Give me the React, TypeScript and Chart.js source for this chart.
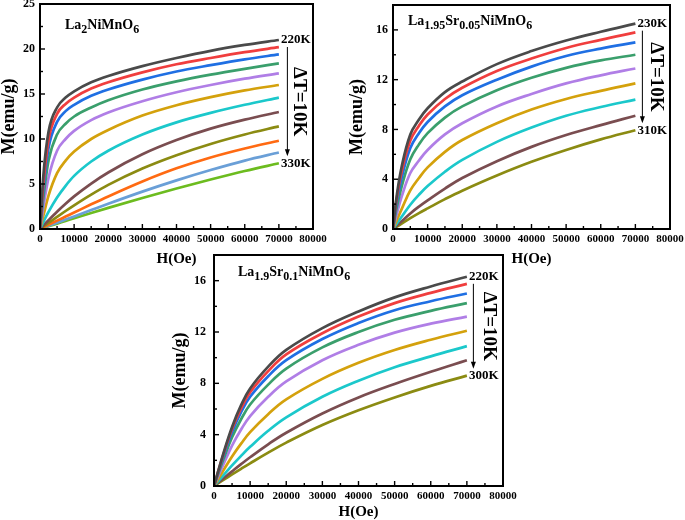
import React, { useEffect, useRef } from 'react';
import { Chart, registerables } from 'chart.js';

Chart.register(...registerables);

const FONT = "'Liberation Serif', 'Times New Roman', Times, serif";

const FIELD_OE = [0, 1000, 2500, 5000, 7500, 10000, 15000, 20000, 30000, 40000, 50000, 60000, 70000];

const CURVE_COLORS = ['#4a4a4a', '#f03e3e', '#1f6fe3', '#3a9f6c', '#b07ee6', '#d4a10c', '#1bc8cb', '#7a4d50', '#8b8b12', '#ff6a12', '#6a9fd7', '#6cbc1f'];

// ---- Panel 1: La2NiMnO6, 220 K ... 330 K ----
const LNMO_220K = [0, 6.0, 10.8, 13.5, 14.6, 15.3, 16.3, 17.0, 18.1, 19.0, 19.8, 20.45, 21.0];
const LNMO_230K = [0, 5.0, 9.9, 12.8, 13.9, 14.6, 15.6, 16.3, 17.4, 18.3, 19.0, 19.65, 20.2];
const LNMO_240K = [0, 4.4, 9.0, 11.9, 13.1, 13.8, 14.8, 15.5, 16.6, 17.5, 18.2, 18.85, 19.4];
const LNMO_250K = [0, 3.5, 7.6, 10.5, 11.7, 12.5, 13.5, 14.3, 15.5, 16.4, 17.15, 17.8, 18.4];
const LNMO_260K = [0, 2.5, 5.7, 8.7, 10.0, 10.9, 12.1, 12.95, 14.2, 15.2, 16.0, 16.7, 17.3];
const LNMO_270K = [0, 1.5, 3.7, 6.2, 7.6, 8.6, 10.0, 11.0, 12.6, 13.75, 14.65, 15.4, 16.0];
const LNMO_280K = [0, 0.8, 1.9, 3.5, 4.8, 5.9, 7.5, 8.7, 10.5, 11.85, 12.9, 13.8, 14.6];
const LNMO_290K = [0, 0.4, 0.98, 1.92, 2.8, 3.62, 5.05, 6.28, 8.3, 9.88, 11.15, 12.15, 13.0];
const LNMO_300K = [0, 0.28, 0.68, 1.35, 2.0, 2.63, 3.82, 4.9, 6.72, 8.2, 9.45, 10.5, 11.4];
const LNMO_310K = [0, 0.19, 0.47, 0.93, 1.38, 1.83, 2.74, 3.62, 5.28, 6.74, 7.95, 8.95, 9.8];
const LNMO_320K = [0, 0.14, 0.35, 0.7, 1.05, 1.4, 2.1, 2.8, 4.15, 5.4, 6.55, 7.6, 8.5];
const LNMO_330K = [0, 0.12, 0.3, 0.6, 0.9, 1.2, 1.78, 2.35, 3.45, 4.5, 5.5, 6.45, 7.3];

// ---- Panel 2: La1.95Sr0.05NiMnO6, 230 K ... 310 K ----
const SR05_230K = [0, 2.5, 5.0, 7.6, 8.8, 9.7, 11.0, 11.85, 13.25, 14.3, 15.15, 15.85, 16.5];
const SR05_240K = [0, 2.3, 4.6, 7.1, 8.3, 9.2, 10.45, 11.35, 12.7, 13.7, 14.55, 15.2, 15.8];
const SR05_250K = [0, 2.0, 4.1, 6.5, 7.7, 8.6, 9.85, 10.75, 12.0, 13.05, 13.9, 14.5, 15.0];
const SR05_260K = [0, 1.6, 3.4, 5.6, 6.8, 7.7, 8.95, 9.85, 11.15, 12.15, 12.95, 13.55, 14.0];
const SR05_270K = [0, 1.1, 2.6, 4.5, 5.5, 6.35, 7.6, 8.5, 9.85, 10.85, 11.7, 12.35, 12.9];
const SR05_280K = [0, 0.65, 1.6, 3.1, 4.1, 4.95, 6.2, 7.15, 8.5, 9.6, 10.45, 11.1, 11.7];
const SR05_290K = [0, 0.4, 0.98, 1.95, 2.75, 3.45, 4.6, 5.55, 7.0, 8.15, 9.1, 9.8, 10.4];
const SR05_300K = [0, 0.25, 0.62, 1.25, 1.8, 2.3, 3.25, 4.1, 5.45, 6.6, 7.55, 8.35, 9.1];
const SR05_310K = [0, 0.17, 0.43, 0.87, 1.28, 1.66, 2.4, 3.08, 4.3, 5.4, 6.35, 7.2, 7.94];

// ---- Panel 3: La1.9Sr0.1NiMnO6, 220 K ... 300 K ----
const SR10_220K = [0, 1.0, 2.45, 4.6, 6.3, 7.6, 9.3, 10.6, 12.3, 13.6, 14.7, 15.55, 16.3];
const SR10_230K = [0, 0.97, 2.38, 4.45, 6.05, 7.3, 8.95, 10.25, 11.9, 13.2, 14.25, 15.05, 15.75];
const SR10_240K = [0, 0.92, 2.25, 4.2, 5.75, 6.95, 8.55, 9.8, 11.45, 12.7, 13.7, 14.4, 15.0];
const SR10_250K = [0, 0.82, 2.0, 3.8, 5.2, 6.35, 7.9, 9.15, 10.8, 12.0, 12.95, 13.65, 14.25];
const SR10_260K = [0, 0.66, 1.62, 3.15, 4.4, 5.45, 6.95, 8.15, 9.8, 11.0, 11.95, 12.65, 13.2];
const SR10_270K = [0, 0.47, 1.17, 2.3, 3.3, 4.2, 5.6, 6.75, 8.35, 9.6, 10.6, 11.4, 12.1];
const SR10_280K = [0, 0.32, 0.8, 1.6, 2.35, 3.05, 4.3, 5.35, 6.95, 8.2, 9.25, 10.1, 10.9];
const SR10_290K = [0, 0.23, 0.57, 1.14, 1.7, 2.24, 3.25, 4.15, 5.65, 6.9, 7.95, 8.9, 9.8];
const SR10_300K = [0, 0.18, 0.45, 0.9, 1.34, 1.77, 2.6, 3.38, 4.75, 5.9, 6.9, 7.8, 8.6];

const LNMO_TEMPS = ['220K', '230K', '240K', '250K', '260K', '270K', '280K', '290K', '300K', '310K', '320K', '330K'];
const SR05_TEMPS = ['230K', '240K', '250K', '260K', '270K', '280K', '290K', '300K', '310K'];
const SR10_TEMPS = ['220K', '230K', '240K', '250K', '260K', '270K', '280K', '290K', '300K'];

// chemical formulas: [text, isSubscript]
const LNMO_NAME: [string, boolean][] = [['La', false], ['2', true], ['NiMnO', false], ['6', true]];
const SR05_NAME: [string, boolean][] = [['La', false], ['1.95', true], ['Sr', false], ['0.05', true], ['NiMnO', false], ['6', true]];
const SR10_NAME: [string, boolean][] = [['La', false], ['1.9', true], ['Sr', false], ['0.1', true], ['NiMnO', false], ['6', true]];

const X_AXIS_TITLE = 'H(Oe)';
const Y_AXIS_TITLE = 'M(emu/g)';
const STEP_LABEL = 'ΔT=10K';

type PanelCfg = {
  left: number; top: number; w: number; h: number;
  yAxisWidth: number; xAxisHeight: number; padTop: number; padRight: number;
  yMax: number; yStep: number; yMinor: number; yTickPad: number;
  yTitlePad: number; xTitlePad: number;
  name: [string, boolean][]; nameDx: number; nameDy: number;
  series: number[][]; temps: string[]; arrowDx: number; tension: number;
};

const PANELS: PanelCfg[] = [
  {
    left: 0, top: 0, w: 340, h: 270, yAxisWidth: 40, xAxisHeight: 41, padTop: 4, padRight: 27,
    yMax: 25, yStep: 5, yMinor: 2.5, yTickPad: 5, yTitlePad: 0, xTitlePad: 3.5,
    name: LNMO_NAME, nameDx: 25, nameDy: 25,
    series: [LNMO_220K, LNMO_230K, LNMO_240K, LNMO_250K, LNMO_260K, LNMO_270K, LNMO_280K, LNMO_290K, LNMO_300K, LNMO_310K, LNMO_320K, LNMO_330K],
    temps: LNMO_TEMPS, arrowDx: 8.5, tension: 0,
  },
  {
    left: 340, top: 0, w: 345, h: 270, yAxisWidth: 53, xAxisHeight: 41, padTop: 5, padRight: 15,
    yMax: 18, yStep: 4, yMinor: 2, yTickPad: 5, yTitlePad: 8, xTitlePad: 3.5,
    name: SR05_NAME, nameDx: 15, nameDy: 20,
    series: [SR05_230K, SR05_240K, SR05_250K, SR05_260K, SR05_270K, SR05_280K, SR05_290K, SR05_300K, SR05_310K],
    temps: SR05_TEMPS, arrowDx: 7, tension: 0.4,
  },
  {
    left: 160, top: 250, w: 360, h: 270, yAxisWidth: 54, xAxisHeight: 34, padTop: 5, padRight: 17,
    yMax: 18, yStep: 4, yMinor: 2, yTickPad: 8, yTitlePad: 11, xTitlePad: 0,
    name: SR10_NAME, nameDx: 24, nameDy: 21,
    series: [SR10_220K, SR10_230K, SR10_240K, SR10_250K, SR10_260K, SR10_270K, SR10_280K, SR10_290K, SR10_300K],
    temps: SR10_TEMPS, arrowDx: 6.5, tension: 0.4,
  },
];

function decorPlugin(cfg: PanelCfg) {
  return {
    id: 'decor',
    afterDraw(chart: any) {
      const { ctx, chartArea: a, scales } = chart;
      const xs = scales.x;
      const ys = scales.y;
      ctx.save();
      ctx.strokeStyle = '#000';
      ctx.fillStyle = '#000';
      // inward tick marks on bottom axis (major + minor)
      ctx.lineWidth = 1.4;
      const xt = xs.ticks.map((t: any) => t.value);
      for (let i = 0; i < xt.length; i++) {
        const px = xs.getPixelForValue(xt[i]);
        ctx.beginPath(); ctx.moveTo(px, a.bottom); ctx.lineTo(px, a.bottom - 5); ctx.stroke();
        if (i < xt.length - 1) {
          const mx = xs.getPixelForValue((xt[i] + xt[i + 1]) / 2);
          ctx.beginPath(); ctx.moveTo(mx, a.bottom); ctx.lineTo(mx, a.bottom - 3); ctx.stroke();
        }
      }
      // inward tick marks on left axis
      const nMinor = Math.round(cfg.yMax / cfg.yMinor);
      for (let k = 0; k <= nMinor; k++) {
        const v = k * cfg.yMinor;
        const py = ys.getPixelForValue(v);
        const major = Math.abs(v / cfg.yStep - Math.round(v / cfg.yStep)) < 1e-6;
        ctx.beginPath(); ctx.moveTo(a.left, py); ctx.lineTo(a.left + (major ? 5 : 3), py); ctx.stroke();
      }
      // frame
      ctx.lineWidth = 2;
      ctx.strokeRect(a.left, a.top, a.right - a.left, a.bottom - a.top);

      // formula
      let cx = a.left + cfg.nameDx;
      const by = a.top + cfg.nameDy;
      ctx.textBaseline = 'alphabetic';
      ctx.textAlign = 'left';
      for (const [t, sub] of cfg.name) {
        ctx.font = `bold ${sub ? 12 : 14}px ${FONT}`;
        ctx.fillText(t, cx, sub ? by + 4 : by);
        cx += ctx.measureText(t).width;
      }

      // temperature labels at ends of first/last curves
      const last = FIELD_OE.length - 1;
      const xEnd = xs.getPixelForValue(FIELD_OE[last]);
      const firstVals = cfg.series[0];
      const lastVals = cfg.series[cfg.series.length - 1];
      const yTop = ys.getPixelForValue(firstVals[last]);
      const yBot = ys.getPixelForValue(lastVals[last]);
      ctx.font = `bold 13px ${FONT}`;
      ctx.textBaseline = 'middle';
      ctx.fillText(cfg.temps[0], xEnd + 2, yTop);
      ctx.fillText(cfg.temps[cfg.temps.length - 1], xEnd + 2, yBot);

      // arrow
      const ax = xEnd + cfg.arrowDx;
      const y1 = yTop + 7;
      const y2 = yBot - 7;
      ctx.lineWidth = 1;
      ctx.beginPath(); ctx.moveTo(ax, y1); ctx.lineTo(ax, y2 - 5); ctx.stroke();
      ctx.beginPath(); ctx.moveTo(ax - 2.5, y2 - 7); ctx.lineTo(ax + 2.5, y2 - 7); ctx.lineTo(ax, y2); ctx.closePath(); ctx.fill();

      // ΔT label, rotated clockwise
      ctx.translate(a.right - 14, (yTop + yBot) / 2);
      ctx.rotate(Math.PI / 2);
      ctx.font = `bold 19px ${FONT}`;
      ctx.textAlign = 'center';
      ctx.textBaseline = 'middle';
      ctx.fillText(STEP_LABEL, 0, 0);
      ctx.restore();
    },
  };
}

function Panel({ cfg }: { cfg: PanelCfg }) {
  const ref = useRef<HTMLCanvasElement>(null);
  useEffect(() => {
    const canvas = ref.current;
    if (!canvas) return;
    const tickFont = (size: number) => ({ family: FONT, size, weight: 'bold' as const });
    const chart = new Chart(canvas, {
      type: 'line',
      data: {
        datasets: cfg.series.map((vals, i) => ({
          label: cfg.temps[i],
          data: FIELD_OE.map((h, j) => ({ x: h, y: vals[j] })),
          borderColor: CURVE_COLORS[i],
          backgroundColor: CURVE_COLORS[i],
          borderWidth: 2.7,
          pointRadius: 0,
          cubicInterpolationMode: cfg.tension > 0 ? ('default' as const) : ('monotone' as const),
          tension: cfg.tension,
          fill: false,
        })),
      },
      options: {
        responsive: false,
        animation: false,
        devicePixelRatio: 1,
        layout: { padding: { top: cfg.padTop, right: cfg.padRight, left: 0, bottom: 0 } },
        plugins: { legend: { display: false }, tooltip: { enabled: false } },
        scales: {
          x: {
            type: 'linear',
            min: 0,
            max: 80000,
            grid: { display: false, drawTicks: false },
            border: { display: false },
            ticks: {
              stepSize: 10000, autoSkip: false, maxRotation: 0, padding: 4, color: '#000',
              font: tickFont(11), callback: (v: any) => String(v),
            },
            title: {
              display: true, text: X_AXIS_TITLE, color: '#000',
              font: { family: FONT, size: 15, weight: 'bold', lineHeight: 1 },
              padding: { top: 0, bottom: cfg.xTitlePad },
            },
            afterFit: (s: any) => { s.height = cfg.xAxisHeight; s.paddingLeft = 0; s.paddingRight = 0; },
          },
          y: {
            type: 'linear',
            min: 0,
            max: cfg.yMax,
            grid: { display: false, drawTicks: false },
            border: { display: false },
            ticks: { stepSize: cfg.yStep, padding: cfg.yTickPad, color: '#000', font: tickFont(12) },
            afterBuildTicks: (s: any) => {
              s.ticks = s.ticks.filter((t: any) => Math.abs(t.value / cfg.yStep - Math.round(t.value / cfg.yStep)) < 1e-6);
            },
            title: {
              display: true, text: Y_AXIS_TITLE, color: '#000',
              font: { family: FONT, size: 18, weight: 'bold', lineHeight: 1 },
              padding: { top: cfg.yTitlePad, bottom: 0 },
            },
            afterFit: (s: any) => { s.width = cfg.yAxisWidth; s.paddingTop = 0; s.paddingBottom = 0; },
          },
        },
      } as any,
      plugins: [decorPlugin(cfg)],
    });
    return () => chart.destroy();
  }, [cfg]);
  return (
    <canvas
      ref={ref}
      width={cfg.w}
      height={cfg.h}
      style={{ position: 'absolute', left: cfg.left, top: cfg.top, width: cfg.w, height: cfg.h }}
    />
  );
}

export default function App() {
  return (
    <div style={{ position: 'absolute', left: 0, top: 0, width: 685, height: 520, background: '#fff', overflow: 'hidden' }}>
      {PANELS.map((p, i) => (
        <Panel key={i} cfg={p} />
      ))}
    </div>
  );
}
